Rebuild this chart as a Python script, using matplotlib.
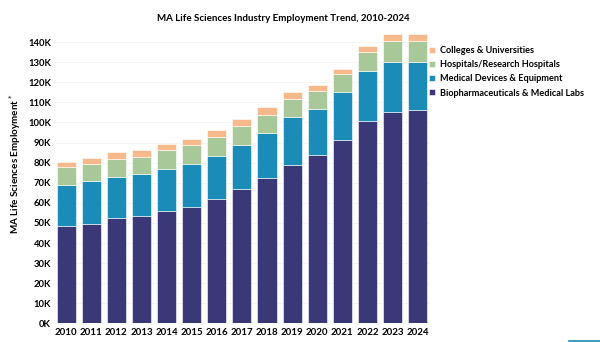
import matplotlib
matplotlib.use("Agg")
import matplotlib.pyplot as plt
from matplotlib.lines import Line2D
import numpy as np

years = ["2010", "2011", "2012", "2013", "2014", "2015", "2016", "2017",
         "2018", "2019", "2020", "2021", "2022", "2023", "2024"]
biopharma = [48.6, 49.3, 52.4, 53.6, 55.9, 58.1, 62.0, 66.9, 72.3, 79.0, 83.6, 91.4, 100.7, 105.3, 106.2]
devices = [20.3, 21.4, 20.6, 20.6, 21.1, 21.3, 21.4, 21.7, 22.4, 23.5, 23.1, 23.6, 25.0, 24.9, 24.0]
hospitals = [8.9, 8.6, 8.9, 8.7, 9.1, 9.2, 9.3, 9.8, 9.1, 9.3, 9.1, 8.9, 9.5, 10.3, 10.1]
colleges = [2.6, 3.0, 3.2, 3.5, 3.3, 3.3, 3.5, 3.4, 3.7, 3.5, 2.7, 2.7, 3.0, 3.5, 3.7]
series_names = ["Biopharmaceuticals & Medical Labs", "Medical Devices & Equipment",
                "Hospitals/Research Hospitals", "Colleges & Universities"]
colors = ["#3b3878", "#1b8cb8", "#a9c89a", "#f7b98c"]
yticks = [0, 10, 20, 30, 40, 50, 60, 70, 80, 90, 100, 110, 120, 130, 140]
ytick_labels = [f"{v}K" for v in yticks]

plt.rcParams['font.family'] = ['Lato', 'DejaVu Sans']

fig = plt.figure(figsize=(6, 3.42), dpi=100)
ax = fig.add_axes([0.0894, 0.0544, 0.6276, 0.858])

x = np.arange(len(years))
bottom = np.zeros(len(years))
for vals, name, c in zip([biopharma, devices, hospitals, colleges], series_names, colors):
    ax.bar(x, vals, bottom=bottom, width=0.76, color=c, edgecolor="white", linewidth=0.4, label=name, zorder=2)
    bottom += np.array(vals)

ax.set_xlim(-0.5, len(years) - 0.5)
ax.set_ylim(0, 146)
ax.set_yticks(yticks)
ax.set_yticklabels(ytick_labels, fontsize=6.8, fontweight="bold")
ax.set_xticks(x)
ax.set_xticklabels(years, fontsize=7, fontweight="bold")
ax.tick_params(axis="both", length=0, pad=2)
ax.tick_params(axis="x", pad=3)
for s in ax.spines.values():
    s.set_visible(False)
ax.grid(axis="y", color="#f2f2f2", linewidth=0.6, zorder=0)
ax.set_axisbelow(True)

ax.set_ylabel("MA Life Sciences Employment $^{*}$", fontsize=7.1, fontweight="bold")
ax.yaxis.set_label_coords(-0.082, 0.545)

fig.text(0.472, 0.945, "MA Life Sciences Industry Employment Trend, 2010-2024",
         ha="center", va="center", fontsize=7, fontweight="bold")

h, l = ax.get_legend_handles_labels()
leg = fig.legend(h[::-1], l[::-1], loc="upper left", bbox_to_anchor=(0.709, 0.875),
                 frameon=False, fontsize=6.6, handlelength=0.6, handleheight=0.6,
                 handletextpad=0.6, labelspacing=0.55, borderaxespad=0)
for t in leg.get_texts():
    t.set_fontweight("bold")

fig.add_artist(Line2D([0.948, 1.0], [0.003, 0.003], color="#1b8cb8", linewidth=1.2))

fig.savefig("out.png", dpi=100)
